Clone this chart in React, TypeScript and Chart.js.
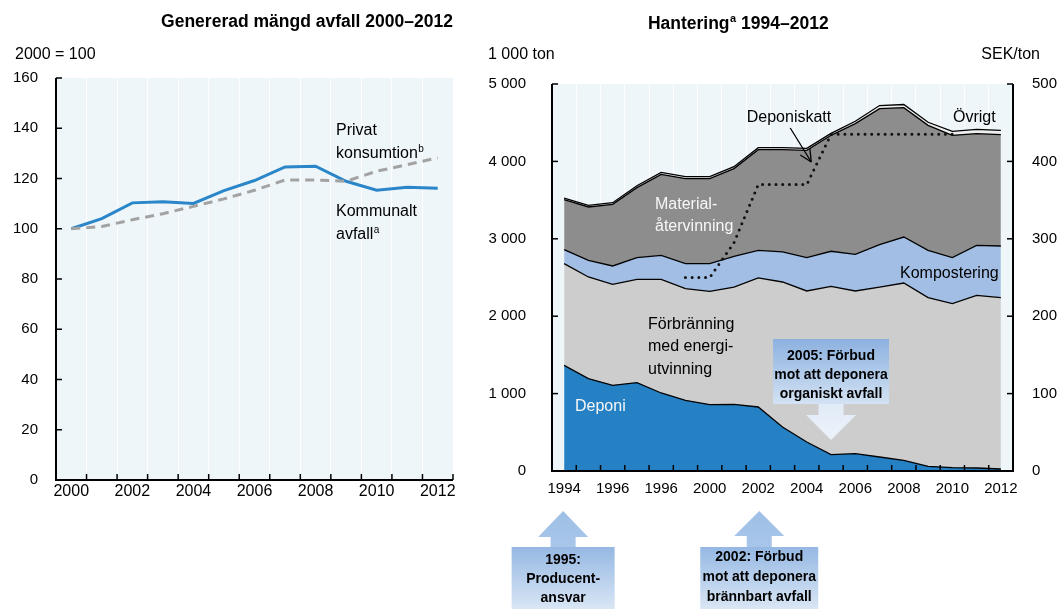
import React, { useEffect, useRef } from 'react';
import { Chart, registerables } from 'chart.js';

Chart.register(...registerables);

const FONT = '"Liberation Sans", Arial, Helvetica, sans-serif';
const PANEL = '#eef6fa';

// ---------- Left chart: Genererad mängd avfall 2000–2012 (2000 = 100) ----------
const leftYears = ['2000', '2001', '2002', '2003', '2004', '2005', '2006', '2007', '2008', '2009', '2010', '2011', '2012'];
const leftXTickLabels = ['2000', '', '2002', '', '2004', '', '2006', '', '2008', '', '2010', '', '2012'];
const kommunaltAvfall = [100, 104, 110.3, 110.7, 110.1, 115.2, 119.2, 124.6, 124.9, 118.9, 115.3, 116.5, 116.1];
const privatKonsumtion = [100, 100.9, 103.6, 106.0, 108.9, 111.9, 115.3, 119.4, 119.4, 118.9, 122.9, 125.5, 128.2];

// ---------- Right chart: Hantering 1994–2012 (1 000 ton, SEK/ton) ----------
const rightYears = ['1994', '1995', '1996', '1997', '1998', '1999', '2000', '2001', '2002', '2003', '2004', '2005', '2006', '2007', '2008', '2009', '2010', '2011', '2012'];
const rightXTickLabels = ['1994', '', '1996', '', '1996', '', '2000', '', '2002', '', '2004', '', '2006', '', '2008', '', '2010', '', '2012'];
const rightYTickLabels = ['0', '1 000', '2 000', '3 000', '4 000', '5 000'];
const deponi = [1365, 1194, 1107, 1142, 1008, 913, 858, 862, 827, 569, 375, 212, 225, 181, 138, 61, 44, 39, 26];
const forbranning = [1315, 1313, 1305, 1335, 1469, 1444, 1464, 1515, 1667, 1873, 1951, 2174, 2101, 2196, 2291, 2179, 2119, 2231, 2214];
const kompostering = [180, 215, 237, 280, 310, 323, 358, 397, 357, 388, 431, 453, 474, 548, 594, 611, 594, 646, 667];
const materialatervinning = [646, 689, 797, 904, 1046, 1098, 1098, 1133, 1301, 1322, 1386, 1498, 1688, 1757, 1672, 1615, 1580, 1443, 1439];
const ovrigt = [20, 20, 20, 25, 25, 25, 25, 25, 25, 25, 25, 25, 30, 40, 40, 40, 50, 55, 55];
const deponiskatt = [null, null, null, null, null, 250, 250, 295, 370, 370, 370, 435, 435, 435, 435, 435, 435, null, null];

function font(size: number, bold = false) {
  return `${bold ? 'bold ' : ''}${size}px ${FONT}`;
}

function text(ctx: CanvasRenderingContext2D, s: string, x: number, y: number, size: number, opts: any = {}) {
  ctx.save();
  ctx.font = font(size, !!opts.bold);
  ctx.fillStyle = opts.color || '#000';
  ctx.textAlign = opts.align || 'left';
  ctx.textBaseline = 'middle';
  ctx.fillText(s, x, y);
  ctx.restore();
}

// text with a superscript, then optional trailing text; align left/center
function supText(ctx: CanvasRenderingContext2D, main: string, sup: string, tail: string, x: number, y: number, size: number, bold: boolean, align: string) {
  ctx.save();
  ctx.textBaseline = 'middle';
  ctx.fillStyle = '#000';
  ctx.font = font(size, bold);
  const w1 = ctx.measureText(main).width;
  const w3 = ctx.measureText(tail).width;
  ctx.font = font(Math.round(size * 0.6), bold);
  const w2 = ctx.measureText(sup).width;
  const total = w1 + w2 + w3;
  let x0 = x;
  if (align === 'center') x0 = x - total / 2;
  if (align === 'right') x0 = x - total;
  ctx.textAlign = 'left';
  ctx.font = font(size, bold);
  ctx.fillText(main, x0, y);
  ctx.font = font(Math.round(size * 0.6), bold);
  ctx.fillText(sup, x0 + w1 + 0.5, y - size * 0.3);
  ctx.font = font(size, bold);
  ctx.fillText(tail, x0 + w1 + w2 + 0.5, y);
  ctx.restore();
}

function boundaries(xs: any, n: number) {
  const p0 = xs.getPixelForValue(0);
  const p1 = xs.getPixelForValue(1);
  const hw = (p1 - p0) / 2;
  const out: number[] = [];
  for (let i = 0; i <= n; i++) out.push(p0 - hw + i * 2 * hw);
  return out;
}

function seg(ctx: CanvasRenderingContext2D, x1: number, y1: number, x2: number, y2: number) {
  ctx.beginPath();
  ctx.moveTo(x1, y1);
  ctx.lineTo(x2, y2);
  ctx.stroke();
}

function callout(ctx: CanvasRenderingContext2D, cx: number, dir: 'up' | 'down', boxTop: number, boxW: number, boxH: number, tipY: number, triBase: number, lines: string[], lineYs: number[]) {
  ctx.save();
  const bl = cx - boxW / 2;
  const bg = ctx.createLinearGradient(0, boxTop, 0, boxTop + boxH);
  if (dir === 'up') {
    bg.addColorStop(0, '#95b8e3');
    bg.addColorStop(1, '#e2ecf7');
  } else {
    bg.addColorStop(0, '#8cb1df');
    bg.addColorStop(1, '#d3e2f3');
  }
  ctx.fillStyle = bg;
  ctx.fillRect(bl, boxTop, boxW, boxH);
  // arrow
  const ag = ctx.createLinearGradient(0, Math.min(tipY, boxTop), 0, Math.max(tipY, boxTop + boxH));
  if (dir === 'up') {
    ag.addColorStop(0, '#9ebfe6');
    ag.addColorStop(1, '#bcd3ef');
  } else {
    ag.addColorStop(0, '#cddff2');
    ag.addColorStop(1, '#ecf2fa');
  }
  ctx.fillStyle = ag;
  ctx.beginPath();
  const shaftEdge = dir === 'up' ? boxTop : boxTop + boxH;
  ctx.moveTo(cx - 12.5, shaftEdge);
  ctx.lineTo(cx - 12.5, triBase);
  ctx.lineTo(cx - 25, triBase);
  ctx.lineTo(cx, tipY);
  ctx.lineTo(cx + 25, triBase);
  ctx.lineTo(cx + 12.5, triBase);
  ctx.lineTo(cx + 12.5, shaftEdge);
  ctx.closePath();
  ctx.fill();
  lines.forEach((l, i) => text(ctx, l, cx, lineYs[i], 14, { bold: true, align: 'center' }));
  ctx.restore();
}

const leftDecor = {
  id: 'leftDecor',
  beforeDraw(chart: any) {
    const { ctx, chartArea: a } = chart;
    ctx.save();
    ctx.fillStyle = PANEL;
    ctx.fillRect(a.left, a.top, a.right - a.left, a.bottom - a.top);
    ctx.restore();
  },
  afterDraw(chart: any) {
    const { ctx, chartArea: a, scales } = chart;
    ctx.save();
    ctx.strokeStyle = '#000';
    ctx.lineWidth = 2;
    ctx.beginPath();
    ctx.moveTo(a.left, a.top);
    ctx.lineTo(a.left, a.bottom);
    ctx.lineTo(a.right, a.bottom);
    ctx.stroke();
    ctx.lineWidth = 1.5;
    scales.y.ticks.forEach((t: any) => {
      const y = scales.y.getPixelForValue(t.value);
      seg(ctx, a.left, y, a.left + 6, y);
    });
    boundaries(scales.x, leftYears.length).forEach((x) => seg(ctx, x, a.bottom, x, a.bottom - 6));
    ctx.restore();

    supText(ctx, 'Genererad mängd avfall 2000–2012', '', '', 307, 22, 17.5, true, 'center');
    text(ctx, '2000 = 100', 15, 55, 16);
    text(ctx, 'Privat', 336, 131, 16);
    supText(ctx, 'konsumtion', 'b', '', 336, 154, 16, false, 'left');
    text(ctx, 'Kommunalt', 336, 212, 16);
    supText(ctx, 'avfall', 'a', '', 336, 235, 16, false, 'left');
  },
};

const rightDecor = {
  id: 'rightDecor',
  beforeDraw(chart: any) {
    const { ctx, chartArea: a } = chart;
    ctx.save();
    ctx.fillStyle = PANEL;
    ctx.fillRect(a.left, a.top, a.right - a.left, a.bottom - a.top);
    ctx.restore();
  },
  afterDraw(chart: any) {
    const { ctx, chartArea: a, scales } = chart;
    ctx.save();
    ctx.strokeStyle = '#000';
    ctx.lineWidth = 2;
    ctx.beginPath();
    ctx.moveTo(a.left, a.top);
    ctx.lineTo(a.left, a.bottom);
    ctx.lineTo(a.right, a.bottom);
    ctx.lineTo(a.right, a.top);
    ctx.stroke();
    ctx.lineWidth = 1.5;
    scales.y.ticks.forEach((t: any) => {
      const y = scales.y.getPixelForValue(t.value);
      seg(ctx, a.left, y, a.left + 6, y);
    });
    scales.y2.ticks.forEach((t: any) => {
      const y = scales.y2.getPixelForValue(t.value);
      seg(ctx, a.right, y, a.right - 6, y);
    });
    boundaries(scales.x, rightYears.length).forEach((x) => seg(ctx, x, a.bottom, x, a.bottom - 6));

    // Deponiskatt pointer
    const tipX = scales.x.getPixelForValue(10) + 4.5;
    const tipY = 162;
    const sx = tipX - 21;
    const sy = 128;
    ctx.lineWidth = 1.3;
    seg(ctx, sx, sy, tipX, tipY);
    const ang = Math.atan2(tipY - sy, tipX - sx);
    const L = 13;
    seg(ctx, tipX, tipY, tipX - L * Math.cos(ang - 0.45), tipY - L * Math.sin(ang - 0.45));
    seg(ctx, tipX, tipY, tipX - L * Math.cos(ang + 0.45), tipY - L * Math.sin(ang + 0.45));
    ctx.restore();

    supText(ctx, 'Hantering', 'a', ' 1994–2012', 258, 24, 17.5, true, 'center');
    text(ctx, '1 000 ton', 8, 55, 16);
    text(ctx, 'SEK/ton', 560, 55, 16, { align: 'right' });

    text(ctx, 'Deponiskatt', 309, 118, 16, { align: 'center' });
    text(ctx, 'Övrigt', 473, 118, 16);
    text(ctx, 'Material-', 175, 205, 16, { color: '#f7f7f7' });
    text(ctx, 'återvinning', 175, 227, 16, { color: '#f7f7f7' });
    text(ctx, 'Kompostering', 420, 274, 16);
    text(ctx, 'Förbränning', 168, 325, 16);
    text(ctx, 'med energi-', 168, 347, 16);
    text(ctx, 'utvinning', 168, 370, 16);
    text(ctx, 'Deponi', 95, 407, 16, { color: '#f7f7f7' });

    const x05 = scales.x.getPixelForValue(11);
    callout(ctx, x05, 'down', 339, 116, 65, 440, 415, ['2005: Förbud', 'mot att deponera', 'organiskt avfall'], [356, 375, 394]);
    const x95 = scales.x.getPixelForValue(0) - 1;
    callout(ctx, x95, 'up', 547, 103, 70, 511, 537, ['1995:', 'Producent-', 'ansvar'], [560, 579, 598]);
    const x02 = scales.x.getPixelForValue(8) + 1;
    callout(ctx, x02, 'up', 547, 118, 70, 511, 536, ['2002: Förbud', 'mot att deponera', 'brännbart avfall'], [557, 577, 597]);
  },
};

export default function App() {
  const leftRef = useRef<HTMLCanvasElement>(null);
  const rightRef = useRef<HTMLCanvasElement>(null);

  useEffect(() => {
    document.body.style.margin = '0';
    Chart.defaults.font.family = FONT;
    Chart.defaults.color = '#000';

    const left = new Chart(leftRef.current as HTMLCanvasElement, {
      type: 'line',
      data: {
        labels: leftYears,
        datasets: [
          { label: 'Privat konsumtion', data: privatKonsumtion, borderColor: '#a3a3a3', borderWidth: 3, borderDash: [9, 6], pointRadius: 0, fill: false, tension: 0 },
          { label: 'Kommunalt avfall', data: kommunaltAvfall, borderColor: '#2a86c8', borderWidth: 3, pointRadius: 0, fill: false, tension: 0 },
        ],
      },
      options: {
        responsive: false,
        animation: false,
        devicePixelRatio: 1,
        layout: { padding: { top: 78, right: 27, bottom: 99, left: 0 } },
        plugins: { legend: { display: false }, tooltip: { enabled: false }, title: { display: false } },
        scales: {
          x: {
            type: 'category',
            offset: true,
            grid: { offset: true, color: 'rgba(255,255,255,0.9)', drawTicks: false, lineWidth: 1 },
            border: { display: false },
            ticks: { autoSkip: false, maxRotation: 0, padding: 2, color: '#000', font: { size: 16, family: FONT }, callback: (_v: any, i: number) => leftXTickLabels[i] },
            afterFit: (s: any) => { s.height = 30; },
          },
          y: {
            min: 0,
            max: 160,
            grid: { display: false, drawTicks: false },
            border: { display: false },
            ticks: { stepSize: 20, padding: 18, color: '#000', font: { size: 15, family: FONT } },
            afterFit: (s: any) => { s.width = 56; },
          },
        },
      } as any,
      plugins: [leftDecor],
    });

    const right = new Chart(rightRef.current as HTMLCanvasElement, {
      type: 'line',
      data: {
        labels: rightYears,
        datasets: [
          { label: 'Deponiskatt', data: deponiskatt, yAxisID: 'y2', borderColor: '#111', borderWidth: 3, borderDash: [0, 6.7], borderCapStyle: 'round', pointRadius: 0, fill: false, tension: 0, spanGaps: false },
          { label: 'Deponi', data: deponi, yAxisID: 'y', borderColor: '#000', borderWidth: 1.3, backgroundColor: '#2581c4', pointRadius: 0, fill: 'origin', tension: 0 },
          { label: 'Förbränning med energiutvinning', data: forbranning, yAxisID: 'y', borderColor: '#000', borderWidth: 1.3, backgroundColor: '#cdcdcd', pointRadius: 0, fill: '-1', tension: 0 },
          { label: 'Kompostering', data: kompostering, yAxisID: 'y', borderColor: '#000', borderWidth: 1.3, backgroundColor: '#a2bee4', pointRadius: 0, fill: '-1', tension: 0 },
          { label: 'Materialåtervinning', data: materialatervinning, yAxisID: 'y', borderColor: '#000', borderWidth: 1.3, backgroundColor: '#8d8d8d', pointRadius: 0, fill: '-1', tension: 0 },
          { label: 'Övrigt', data: ovrigt, yAxisID: 'y', borderColor: '#000', borderWidth: 1.3, backgroundColor: '#eeeeee', pointRadius: 0, fill: '-1', tension: 0 },
        ],
      },
      options: {
        responsive: false,
        animation: false,
        devicePixelRatio: 1,
        layout: { padding: { top: 84, right: 0, bottom: 108, left: 0 } },
        plugins: { legend: { display: false }, tooltip: { enabled: false }, title: { display: false } },
        scales: {
          x: {
            type: 'category',
            offset: true,
            grid: { offset: true, color: 'rgba(255,255,255,0.9)', drawTicks: false, lineWidth: 1 },
            border: { display: false },
            ticks: { autoSkip: false, maxRotation: 0, padding: 9, color: '#000', font: { size: 15, family: FONT }, callback: (_v: any, i: number) => rightXTickLabels[i] },
            afterFit: (s: any) => { s.height = 30; },
          },
          y: {
            stacked: true,
            min: 0,
            max: 5000,
            grid: { display: false, drawTicks: false },
            border: { display: false },
            ticks: { stepSize: 1000, padding: 26, color: '#000', font: { size: 15, family: FONT }, callback: (_v: any, i: number) => rightYTickLabels[i] },
            afterFit: (s: any) => { s.width = 72; },
          },
          y2: {
            position: 'right',
            min: 0,
            max: 500,
            grid: { display: false, drawTicks: false },
            border: { display: false },
            ticks: { stepSize: 100, padding: 19, color: '#000', font: { size: 15, family: FONT } },
            afterFit: (s: any) => { s.width = 48; },
          },
        },
      } as any,
      plugins: [rightDecor],
    });

    return () => {
      left.destroy();
      right.destroy();
    };
  }, []);

  return (
    <div style={{ position: 'relative', width: 1061, height: 609, overflow: 'hidden', background: '#fff' }}>
      <canvas ref={leftRef} width={480} height={609} style={{ position: 'absolute', left: 0, top: 0, width: 480, height: 609 }} />
      <canvas ref={rightRef} width={581} height={609} style={{ position: 'absolute', left: 480, top: 0, width: 581, height: 609 }} />
    </div>
  );
}
